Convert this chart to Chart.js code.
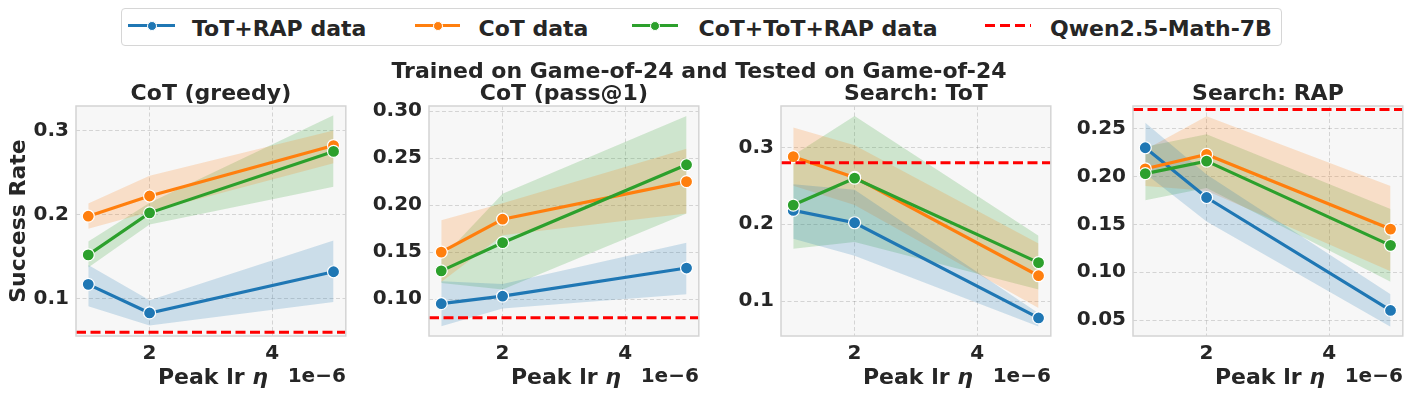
<!DOCTYPE html>
<html>
<head>
<meta charset="utf-8">
<script src="https://cdn.jsdelivr.net/npm/chart.js@4.4.1/dist/chart.umd.min.js"></script>
<style>
  body { margin: 0; background: #fff; font-family: "DejaVu Sans", sans-serif; color: #262626; }
  #wrap { position: relative; width: 1412px; height: 397px; overflow: hidden; }
  canvas { position: absolute; top: 80px; }
  #legend { position: absolute; left: 121px; top: 8px; width: 1159px; height: 36px;
            border: 1px solid #d6d6d6; border-radius: 4px; background: #fff; }
  .lg-line { position: absolute; top: 24px; height: 3px; }
  .lg-dot { position: absolute; top: 20.5px; width: 8px; height: 8px; border-radius: 50%; border: 1px solid #fff; }
  .lg-text { position: absolute; top: 16px; font-size: 22px; font-weight: bold; line-height: normal; white-space: nowrap; }
  #suptitle { position: absolute; left: 0; top: 58px; width: 1398px; text-align: center; font-size: 22px;
              font-weight: bold; line-height: normal; z-index: 2; white-space: nowrap; }
</style>
</head>
<body>
<div id="wrap">
  <div id="legend"></div>
  <div id="suptitle"></div>
</div>
<script>
// x values: peak learning rate, in units of 1e-6
const lrValues = [1, 2, 5];
const xTicks = [2, 4];
const xTickLabels = ['2', '4'];

const seriesNames = ['ToT+RAP data', 'CoT data', 'CoT+ToT+RAP data'];
const baselineName = 'Qwen2.5-Math-7B';
const figTitle = 'Trained on Game-of-24 and Tested on Game-of-24';
const panelTitles = ['CoT (greedy)', 'CoT (pass@1)', 'Search: ToT', 'Search: RAP'];
const baselines = [0.06, 0.08, 0.28, 0.27];

// each: [ToT+RAP, CoT, CoT+ToT+RAP]
const greedyMean = [[0.117, 0.083, 0.132], [0.198, 0.222, 0.282], [0.152, 0.202, 0.275]];
const greedyLo   = [[0.091, 0.068, 0.096], [0.183, 0.203, 0.261], [0.137, 0.188, 0.233]];
const greedyHi   = [[0.140, 0.098, 0.169], [0.213, 0.246, 0.300], [0.168, 0.214, 0.318]];

const passMean = [[0.095, 0.103, 0.133], [0.150, 0.185, 0.225], [0.130, 0.160, 0.243]];
const passLo   = [[0.071, 0.090, 0.105], [0.118, 0.168, 0.191], [0.117, 0.110, 0.191]];
const passHi   = [[0.119, 0.116, 0.160], [0.184, 0.202, 0.260], [0.143, 0.212, 0.295]];

const totMean = [[0.218, 0.202, 0.078], [0.288, 0.261, 0.133], [0.225, 0.260, 0.150]];
const totLo   = [[0.181, 0.159, 0.067], [0.250, 0.225, 0.091], [0.168, 0.177, 0.115]];
const totHi   = [[0.252, 0.245, 0.084], [0.326, 0.303, 0.175], [0.290, 0.341, 0.185]];

const rapMean = [[0.230, 0.178, 0.060], [0.208, 0.223, 0.145], [0.203, 0.216, 0.128]];
const rapLo   = [[0.203, 0.153, 0.043], [0.190, 0.185, 0.101], [0.175, 0.188, 0.090]];
const rapHi   = [[0.256, 0.202, 0.077], [0.228, 0.263, 0.190], [0.231, 0.244, 0.166]];

const yTicksA = [0.1, 0.2, 0.3];
const yTickLabelsA = ['0.1', '0.2', '0.3'];
const yTicksB = [0.10, 0.15, 0.20, 0.25, 0.30];
const yTickLabelsB = ['0.10', '0.15', '0.20', '0.25', '0.30'];
const yTicksC = [0.05, 0.10, 0.15, 0.20, 0.25];
const yTickLabelsC = ['0.05', '0.10', '0.15', '0.20', '0.25'];

const colors = ['#1f77b4', '#ff7f0e', '#2ca02c'];
const bandColors = ['rgba(31,119,180,0.2)', 'rgba(255,127,14,0.2)', 'rgba(44,160,44,0.2)'];
const textColor = '#262626';
const font = '"DejaVu Sans"';

const panels = [
  { mean: greedyMean, lo: greedyLo, hi: greedyHi, ticks: yTicksA, labels: yTickLabelsA, yMin: 0.0556, yMax: 0.329, left: 0, ylabel: true },
  { mean: passMean, lo: passLo, hi: passHi, ticks: yTicksB, labels: yTickLabelsB, yMin: 0.0606, yMax: 0.3056, left: 353 },
  { mean: totMean, lo: totLo, hi: totHi, ticks: yTicksA, labels: yTickLabelsA, yMin: 0.0545, yMax: 0.354, left: 705 },
  { mean: rapMean, lo: rapLo, hi: rapHi, ticks: yTicksC, labels: yTickLabelsC, yMin: 0.0333, yMax: 0.2736, left: 1057 }
];

// legend + suptitle (html)
const wrap = document.getElementById('wrap');
document.getElementById('suptitle').textContent = figTitle;
const legendItems = [
  { line: [128, 175], text: 192 },
  { line: [415, 460], text: 478.5 },
  { line: [632, 678], text: 698.5 },
  { line: [985, 1031], text: 1050 }
];
legendItems.forEach((it, i) => {
  const ln = document.createElement('div');
  ln.className = 'lg-line';
  ln.style.left = it.line[0] + 'px';
  ln.style.width = (it.line[1] - it.line[0]) + 'px';
  if (i < 3) {
    ln.style.background = colors[i];
    wrap.appendChild(ln);
    const dot = document.createElement('div');
    dot.className = 'lg-dot';
    dot.style.background = colors[i];
    dot.style.left = ((it.line[0] + it.line[1]) / 2 - 5) + 'px';
    wrap.appendChild(dot);
  } else {
    ln.style.background = 'repeating-linear-gradient(to right, #ff0000 0 10px, transparent 10px 15px)';
    wrap.appendChild(ln);
  }
  const tx = document.createElement('div');
  tx.className = 'lg-text';
  tx.style.left = it.text + 'px';
  tx.textContent = i < 3 ? seriesNames[i] : baselineName;
  wrap.appendChild(tx);
});

const deco = {
  id: 'deco',
  beforeDraw(chart) {
    const { ctx, chartArea: a } = chart;
    ctx.save();
    ctx.fillStyle = '#f7f7f7';
    ctx.fillRect(a.left, a.top, a.width, a.height);
    ctx.restore();
  },
  afterDatasetsDraw(chart, args, o) {
    const { ctx, chartArea: a } = chart;
    const y = chart.scales.y.getPixelForValue(o.base);
    ctx.save();
    ctx.strokeStyle = '#ff0000';
    ctx.lineWidth = 3;
    ctx.setLineDash([10, 4.5]);
    ctx.beginPath();
    ctx.moveTo(a.left, y);
    ctx.lineTo(a.right, y);
    ctx.stroke();
    ctx.restore();
  },
  afterDraw(chart, args, o) {
    const { ctx, chartArea: a } = chart;
    ctx.save();
    ctx.strokeStyle = '#d4d4d4';
    ctx.lineWidth = 1.5;
    ctx.strokeRect(a.left, a.top, a.width, a.height);

    ctx.fillStyle = textColor;
    ctx.textBaseline = 'alphabetic';
    ctx.textAlign = 'center';
    ctx.font = 'bold 22px ' + font;
    ctx.fillText(o.title, (a.left + a.right) / 2, a.top - 6);

    // x label, eta in italic
    const f1 = 'bold 22px ' + font, f2 = 'italic bold 22px ' + font;
    ctx.font = f1;
    const w1 = ctx.measureText('Peak lr ').width;
    ctx.font = f2;
    const w2 = ctx.measureText('η').width;
    const x0 = (a.left + a.right) / 2 - (w1 + w2) / 2 + 2;
    ctx.textAlign = 'left';
    ctx.font = f1;
    ctx.fillText('Peak lr ', x0, a.bottom + 48);
    ctx.font = f2;
    ctx.fillText('η', x0 + w1, a.bottom + 48);

    ctx.textAlign = 'right';
    ctx.font = 'bold 20px ' + font;
    ctx.fillText('1e\u22126', a.right, a.bottom + 46);

    if (o.ylabel) {
      ctx.translate(25, (a.top + a.bottom) / 2);
      ctx.rotate(-Math.PI / 2);
      ctx.textAlign = 'center';
      ctx.font = 'bold 22px ' + font;
      ctx.fillText('Success Rate', 0, 0);
    }
    ctx.restore();
  }
};

const tickFont = { family: 'DejaVu Sans', size: 20, weight: 'bold' };
const gridOpts = { color: 'rgba(0,0,0,0.14)', lineWidth: 1, drawTicks: false };

panels.forEach((p, pi) => {
  const cv = document.createElement('canvas');
  cv.width = 353;
  cv.height = 317;
  cv.style.left = p.left + 'px';
  wrap.appendChild(cv);

  const datasets = [];
  // lines: green on top, then orange, then blue
  for (let s = 0; s < 3; s++) {
    datasets.push({
      label: seriesNames[s],
      data: lrValues.map((x, i) => ({ x, y: p.mean[s][i] })),
      borderColor: colors[s],
      borderWidth: 3.2,
      pointRadius: 6,
      pointBackgroundColor: colors[s],
      pointBorderColor: '#ffffff',
      pointBorderWidth: 1.2,
      fill: false,
      order: 2 - s
    });
  }
  for (let s = 0; s < 3; s++) {
    datasets.push({
      data: lrValues.map((x, i) => ({ x, y: p.hi[s][i] })),
      borderWidth: 0,
      pointRadius: 0,
      backgroundColor: bandColors[s],
      fill: '+1',
      order: 10
    });
    datasets.push({
      data: lrValues.map((x, i) => ({ x, y: p.lo[s][i] })),
      borderWidth: 0,
      pointRadius: 0,
      fill: false,
      order: 10
    });
  }

  new Chart(cv, {
    type: 'line',
    data: { datasets },
    options: {
      responsive: false,
      animation: false,
      devicePixelRatio: 1,
      layout: { padding: { top: 26, right: 6, left: 0, bottom: 0 } },
      plugins: {
        legend: { display: false },
        tooltip: { enabled: false },
        deco: { title: panelTitles[pi], base: baselines[pi], ylabel: !!p.ylabel }
      },
      scales: {
        x: {
          type: 'linear', min: 0.8, max: 5.2,
          afterBuildTicks: s => { s.ticks = xTicks.map(v => ({ value: v })); },
          afterFit: s => { s.height = 61; },
          grid: gridOpts,
          border: { display: false, dash: [4, 2.5] },
          ticks: { padding: 6, color: textColor, font: tickFont, callback: (v, i) => xTickLabels[i] }
        },
        y: {
          type: 'linear', min: p.yMin, max: p.yMax,
          afterBuildTicks: s => { s.ticks = p.ticks.map(v => ({ value: v })); },
          afterFit: s => { s.width = 76; },
          grid: gridOpts,
          border: { display: false, dash: [4, 2.5] },
          ticks: { padding: 7, color: textColor, font: tickFont, callback: (v, i) => p.labels[i] }
        }
      }
    },
    plugins: [deco]
  });
});
</script>
</body>
</html>
